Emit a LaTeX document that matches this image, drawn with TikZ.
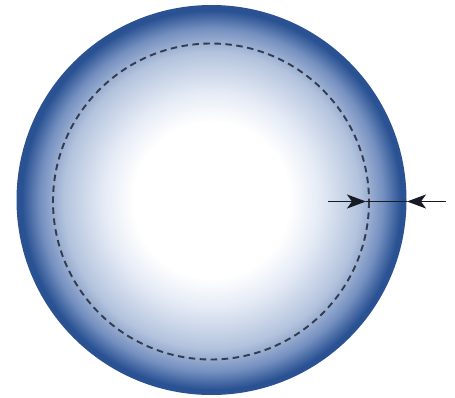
\documentclass[tikz,border=0pt]{standalone}
\usetikzlibrary{arrows.meta}
\definecolor{edgeblue}{HTML}{2A5293}
\definecolor{midblue}{HTML}{7590C0}
\definecolor{lightblue}{HTML}{B3C3DD}
\definecolor{paleblue}{HTML}{E4EAF5}
\definecolor{dashcol}{HTML}{343B4C}
\definecolor{arrcol}{HTML}{161B26}
\pgfdeclareradialshading{ball}{\pgfpoint{0bp}{0bp}}{%
  color(0bp)=(white); color(10bp)=(white); color(14bp)=(paleblue);
  color(19bp)=(lightblue); color(22bp)=(midblue); color(24.3bp)=(edgeblue); color(50bp)=(edgeblue)}
\tikzset{
  dashcircle/.style={draw=dashcol, line width=1.9pt, dash pattern=on 6.5pt off 4.5pt},
  dimline/.style={draw=arrcol, line width=1.5pt},
  dimarrow/.style={dimline, -{Stealth[length=19pt, width=14pt, inset=5pt]}}
}
\begin{document}
\begin{tikzpicture}[x=1pt,y=-1pt]
\useasboundingbox (0,0) rectangle (455,397);
\shade[shading=ball] (211.5,200) circle (195);
\draw[dashcircle] (211,201.5) circle (158);
\coordinate (L) at (328,201.5);
\coordinate (A) at (366,201.5);
\coordinate (B) at (407,201.5);
\coordinate (R) at (446,201.5);
\draw[dimarrow] (L) -- (A);
\draw[dimarrow] (R) -- (B);
\draw[dimline] (A) -- (B);
\end{tikzpicture}
\end{document}
